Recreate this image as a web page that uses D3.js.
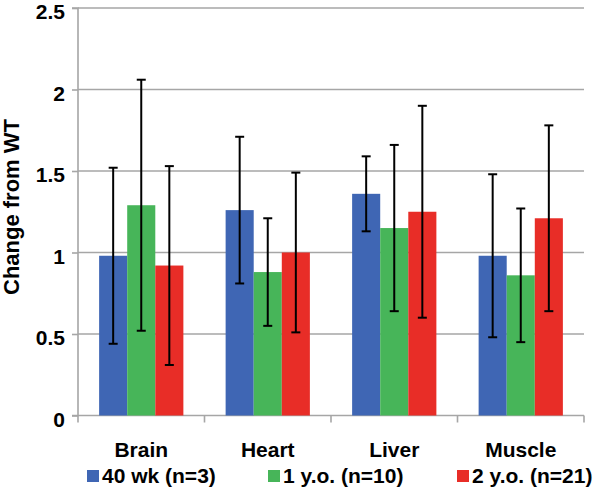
<!DOCTYPE html>
<html><head><meta charset="utf-8">
<script src="https://cdn.jsdelivr.net/npm/d3@7"></script>
<style>body{margin:0;background:#fff}svg{display:block}text{font-family:"Liberation Sans",Arial,sans-serif;font-weight:bold;fill:#000}</style>
</head><body><svg id="c" width="600" height="491"></svg>
<script>
const categories = ["Brain","Heart","Liver","Muscle"];
const seriesNames = ["40 wk (n=3)","1 y.o. (n=10)","2 y.o. (n=21)"];
const seriesColors = ["#3f66b4","#47b559","#e82d27"];
const values40wk = [0.98,1.26,1.36,0.98];
const values1yo  = [1.29,0.88,1.15,0.86];
const values2yo  = [0.92,1.00,1.25,1.21];
const low40wk  = [0.44,0.81,1.13,0.48];
const high40wk = [1.52,1.71,1.59,1.48];
const low1yo   = [0.52,0.55,0.64,0.45];
const high1yo  = [2.06,1.21,1.66,1.27];
const low2yo   = [0.31,0.51,0.60,0.64];
const high2yo  = [1.53,1.49,1.90,1.78];
const yTicks = [0,0.5,1,1.5,2,2.5];
const yTickLabels = ["0","0.5","1","1.5","2","2.5"];
const yTitle = "Change from WT";

const series = [
  {name:seriesNames[0],color:seriesColors[0],v:values40wk,lo:low40wk,hi:high40wk},
  {name:seriesNames[1],color:seriesColors[1],v:values1yo,lo:low1yo,hi:high1yo},
  {name:seriesNames[2],color:seriesColors[2],v:values2yo,lo:low2yo,hi:high2yo}
];

const svg = d3.select("#c");
const L=78, R=584, T=8, B=415.5;
const x = d3.scaleBand().domain(categories).range([L,R]).paddingInner(0).paddingOuter(0);
const y = d3.scaleLinear().domain([0,2.5]).range([B,T]);
const bw = x.bandwidth()*0.222;
const grey="#a6a6a6";

// gridlines
svg.append("g").selectAll("line").data(yTicks.filter(d=>d>0)).join("line")
  .attr("x1",L).attr("x2",R).attr("y1",d=>y(d)).attr("y2",d=>y(d))
  .attr("stroke",grey).attr("stroke-width",1.6);

// y axis
const yAxis = d3.axisLeft(y).tickValues(yTicks).tickFormat((d,i)=>yTickLabels[i]).tickSize(6).tickPadding(7);
const ga = svg.append("g").attr("transform",`translate(${L},0)`).call(yAxis);
ga.select(".domain").attr("stroke",grey).attr("stroke-width",1.6).attr("d",`M-6,${T}H0V${B}H-6`);
ga.selectAll(".tick line").attr("stroke",grey).attr("stroke-width",1.6);
ga.selectAll(".tick text").attr("dy","0.5em").style("font-size","21px").style("font-family","Liberation Sans, Arial, sans-serif").style("font-weight","bold").attr("fill","#000");

// x axis
const boundaries = [0,1,2,3,4].map(i=>L+i*x.step());
svg.append("line").attr("x1",L).attr("x2",R).attr("y1",B).attr("y2",B).attr("stroke",grey).attr("stroke-width",1.6);
svg.append("g").selectAll("line").data(boundaries).join("line")
  .attr("x1",d=>d).attr("x2",d=>d).attr("y1",B).attr("y2",B+7).attr("stroke",grey).attr("stroke-width",1.6);

// bars
series.forEach((s,si)=>{
  const g = svg.append("g");
  g.selectAll("rect").data(categories).join("rect")
    .attr("x",(c)=>x(c)+x.bandwidth()/2+(si-1.5)*bw)
    .attr("width",bw)
    .attr("y",(c,i)=>y(s.v[i]))
    .attr("height",(c,i)=>y(0)-y(s.v[i]))
    .attr("fill",s.color);
});
// error bars
series.forEach((s,si)=>{
  const g = svg.append("g").attr("stroke","#000").attr("stroke-width",2);
  categories.forEach((c,i)=>{
    const cx = x(c)+x.bandwidth()/2+(si-1)*bw;
    g.append("line").attr("x1",cx).attr("x2",cx).attr("y1",y(s.lo[i])).attr("y2",y(s.hi[i]));
    g.append("line").attr("x1",cx-4.5).attr("x2",cx+4.5).attr("y1",y(s.lo[i])).attr("y2",y(s.lo[i]));
    g.append("line").attr("x1",cx-4.5).attr("x2",cx+4.5).attr("y1",y(s.hi[i])).attr("y2",y(s.hi[i]));
  });
});

// category labels
svg.append("g").selectAll("text").data(categories).join("text")
  .attr("x",c=>x(c)+x.bandwidth()/2).attr("y",457).attr("text-anchor","middle")
  .style("font-size","21px").text(c=>c);

// y title
svg.append("text").attr("transform","translate(19,207) rotate(-90)").attr("text-anchor","middle")
  .style("font-size","22px").text(yTitle);

// legend
const legX = [87,268,457];
const lg = svg.append("g");
series.forEach((s,i)=>{
  lg.append("rect").attr("x",legX[i]).attr("y",470).attr("width",12).attr("height",12).attr("fill",s.color);
  lg.append("text").attr("x",legX[i]+15).attr("y",483).style("font-size","21px").text(s.name);
});
</script></body></html>
